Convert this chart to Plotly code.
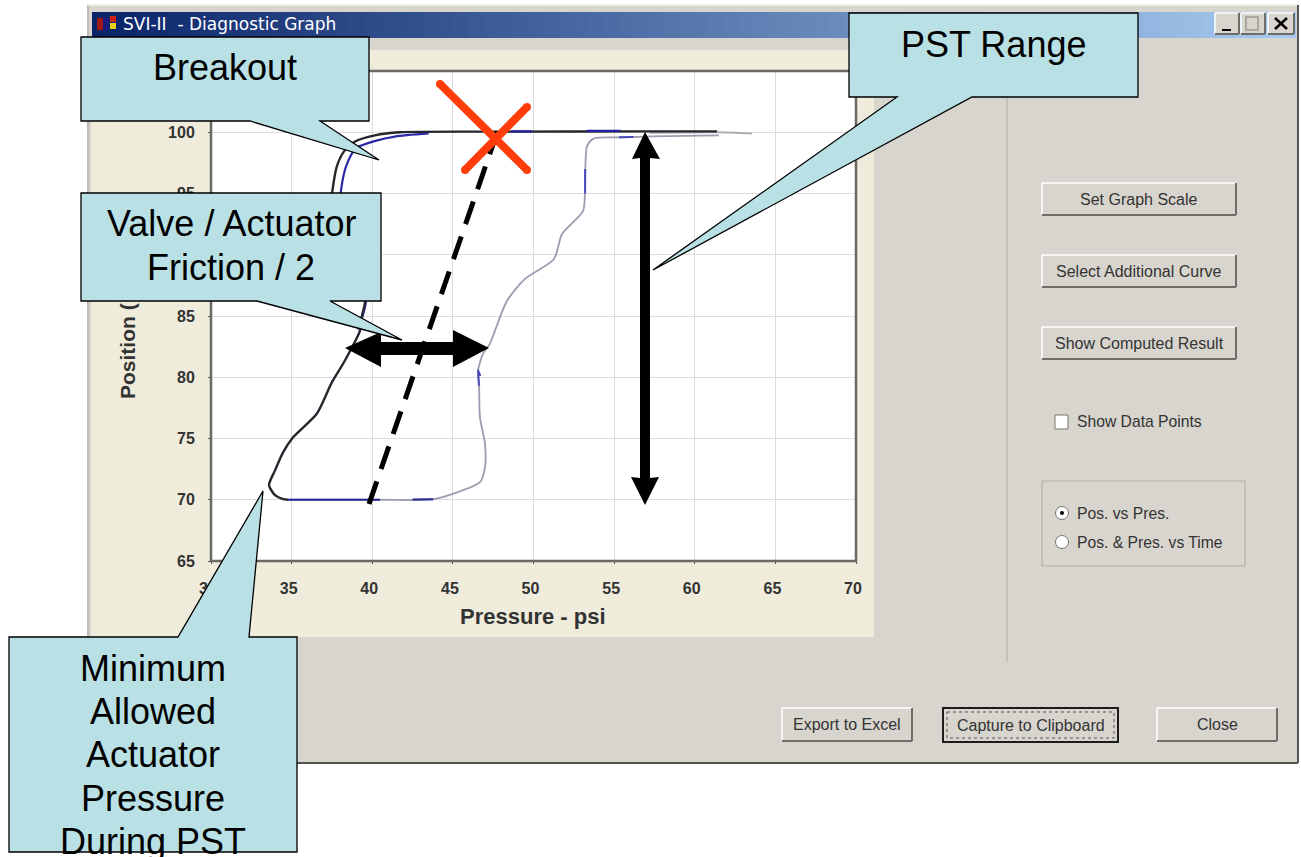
import plotly.graph_objects as go

# ---- chart data (pressure psi, position %) ----
x_ticks = [30, 35, 40, 45, 50, 55, 60, 65, 70]
y_ticks = [65, 70, 75, 80, 85, 90, 95, 100, 105]

down_pressure = [61.38, 57.2, 47.9, 41.7, 40.17, 38.93, 38.25, 37.8, 37.57, 37.44, 37.57, 38.31, 39.12,
                 39.55, 39.36, 39.24, 38.3, 37.5, 36.57, 35.09, 34.47, 33.97, 33.6, 33.97, 34.47, 34.78]
down_position = [100.07, 100.07, 100.05, 100.0, 99.75, 99.25, 98.44, 97.2, 95.6, 94.0, 92.3, 89.33, 87.46,
                 86.24, 85.0, 83.8, 81.35, 79.6, 77.04, 75.1, 73.87, 72.4, 71.2, 70.37, 70.05, 70.0]

blue_left_pressure = [43.5, 41.4, 40.2, 39.0, 38.4, 38.1, 38.0, 38.5, 39.2, 39.6, 39.4, 39.1]
blue_left_position = [99.9, 99.65, 99.3, 98.7, 97.3, 95.6, 93.8, 90.0, 87.5, 86.2, 85.0, 83.9]

return_pressure = [34.78, 40.48, 43.77, 45.26, 46.68, 46.99, 46.99, 46.68, 46.62, 46.56, 46.87, 47.3, 47.61,
                   48.36, 49.47, 51.27, 51.77, 53.07, 53.19, 53.32, 53.75, 55.43, 57.35, 61.5]
return_position = [70.0, 70.0, 70.04, 70.6, 71.43, 72.65, 74.6, 76.7, 79.73, 80.54, 81.92, 82.74, 83.8,
                   86.24, 88.03, 89.65, 91.69, 93.56, 94.94, 98.85, 99.5, 99.58, 99.66, 99.74]

blue_bottom_pressure = [34.78, 40.48, None, 42.5, 43.77]
blue_bottom_position = [70.0, 70.0, None, 70.02, 70.04]
blue_top_pressure = [48.6, 49.9, None, 53.3, 55.4]
blue_top_position = [100.07, 100.07, None, 100.12, 100.12]
blue_return_pressure = [46.7, 46.56, 46.62, None, 53.2, 53.2, None, 55.3, 56.2]
blue_return_position = [80.1, 80.6, 79.3, None, 97.0, 95.0, None, 99.6, 99.62]

tail_pressure = [57.2, 61.38, 63.55]
tail_position = [99.95, 100.0, 99.9]

# ---- page geometry ----
W, H = 1301, 857
L, R, T, B = 211, 856, 71, 561
def X(p): return (p - L) / (R - L)
def Y(p): return (B - p) / (B - T)

shapes, annos = [], []

def rect(x0, y0, x1, y1, fill=None, line=None, lw=1, layer="below", dash=None):
    ln = dict(color=line if line else "rgba(0,0,0,0)", width=lw if line else 0)
    if dash:
        ln["dash"] = dash
    shapes.append(dict(type="rect", xref="paper", yref="paper", x0=X(x0), x1=X(x1), y0=Y(y0), y1=Y(y1),
                       fillcolor=fill if fill else "rgba(0,0,0,0)", line=ln, layer=layer))

def seg(x0, y0, x1, y1, color, lw=1, layer="below", dash=None):
    ln = dict(color=color, width=lw)
    if dash:
        ln["dash"] = dash
    shapes.append(dict(type="line", xref="paper", yref="paper", x0=X(x0), x1=X(x1), y0=Y(y0), y1=Y(y1),
                       line=ln, layer=layer))

def poly(pts, fill, line=None, lw=0, layer="above"):
    d = "M " + " L ".join(f"{X(a):.5f},{Y(b):.5f}" for a, b in pts) + " Z"
    shapes.append(dict(type="path", xref="paper", yref="paper", path=d, fillcolor=fill,
                       line=dict(color=line if line else "rgba(0,0,0,0)", width=lw), layer=layer))

def circ(cx, cy, r, fill, line=None, lw=0, layer="above"):
    shapes.append(dict(type="circle", xref="paper", yref="paper", x0=X(cx - r), x1=X(cx + r), y0=Y(cy - r), y1=Y(cy + r),
                       fillcolor=fill, line=dict(color=line if line else "rgba(0,0,0,0)", width=lw), layer=layer))

def text(cx, cy, s, size, color="#000000", family="Liberation Sans, Arial, sans-serif", anchor="center", angle=0, bold=False):
    annos.append(dict(xref="paper", yref="paper", x=X(cx), y=Y(cy), text=f"<b>{s}</b>" if bold else s, showarrow=False,
                      xanchor=anchor, yanchor="middle", textangle=angle, borderpad=0,
                      font=dict(size=size, color=color, family=family)))

FACE = "#d8d5ce"
def button(x0, y0, x1, y1, label=None, dark=False, size=16):
    rect(x0, y0, x1, y1, fill=FACE)
    seg(x0, y0, x1, y0, "#ffffff", 1.5)
    seg(x0, y0, x0, y1, "#ffffff", 1.5)
    seg(x0, y1, x1, y1, "#6f6d68", 2)
    seg(x1, y0, x1, y1, "#6f6d68", 2)
    if dark:
        rect(x0, y0, x1, y1, line="#1c1c1c", lw=2)
        rect(x0 + 4, y0 + 4, x1 - 4, y1 - 4, line="#555555", lw=1, dash="dot")
    if label:
        text((x0 + x1) / 2, (y0 + y1) / 2, label, size, color="#333333")

# window
rect(88, 5, 1298, 763, fill=FACE)
seg(88, 5, 88, 763, "#bdbbb6", 2)
seg(88, 5, 1298, 5, "#efeeea", 2)
seg(1298, 5, 1298, 763, "#55534f", 2)
seg(88, 763, 1298, 763, "#55534f", 2)

# title bar gradient
left, right = (10, 36, 106), (166, 202, 240)
n = 80
x_a, x_b = 92, 1295
for i in range(n):
    t = i / (n - 1)
    c = tuple(round(left[k] + (right[k] - left[k]) * t) for k in range(3))
    rect(x_a + (x_b - x_a) * i / n, 12, x_a + (x_b - x_a) * (i + 1) / n + 1, 38, fill=f"rgb{c}")
text(122, 24, "SVI-II\u00a0\u00a0- Diagnostic Graph", 17, color="#ffffff", family="DejaVu Sans, sans-serif", anchor="left")

# title icon
for (a, b, c) in [(97, 18, "#a01818"), (103, 18, "#1a1a80"), (110, 16, "#d02010"), (110, 23, "#e8d010"),
                  (103, 24, "#1a1a80"), (97, 24, "#a01818")]:
    rect(a, b, a + 6, b + 6, fill=c)

# caption buttons
button(1215, 13, 1239, 34)
button(1241, 13, 1265, 34)
button(1268, 13, 1294, 34)
rect(1222, 29, 1231, 31, fill="#000000")
rect(1246, 17, 1258, 30, line="#9a9893", lw=1.5)
seg(1275, 18, 1287, 29, "#000000", 2.5)
seg(1287, 18, 1275, 29, "#000000", 2.5)

# chart panel
rect(91, 50, 874, 637, fill="#f0ecdc")
rect(L, T, R, B, fill="#ffffff")

# separator and controls
seg(1007, 97, 1007, 662, "#b3b1ac", 1)
button(1042, 183, 1236, 215, "Set Graph Scale")
button(1042, 255, 1236, 287, "Select Additional Curve")
button(1042, 327, 1236, 359, "Show Computed Result")
button(782, 708, 912, 741, "Export to Excel")
button(943, 708, 1118, 742, "Capture to Clipboard", dark=True)
button(1157, 708, 1277, 741, "Close")

rect(1055, 415, 1068, 429, fill="#ffffff", line="#77756f", lw=1)
text(1076, 422, "Show Data Points", 15.7, color="#333333", anchor="left")

rect(1042, 481, 1245, 566, line="#b3b1ac", lw=1.2)
circ(1062, 513, 6.5, "#ffffff", "#77756f", 1, layer="below")
circ(1062, 513, 2, "#000000", layer="below")
circ(1062, 542, 6.5, "#ffffff", "#77756f", 1, layer="below")
text(1076, 513, "Pos. vs Pres.", 15.7, color="#333333", anchor="left")
text(1076, 542, "Pos. &amp; Pres. vs Time", 15.7, color="#333333", anchor="left")

# plot frame, above the gridlines
rect(L, T, R, B, line="#6b6a62", lw=2.5, layer="above")

# overlays on the plot
poly([(640, 158), (632, 159), (645, 132), (660, 159), (650, 158), (650, 478), (659, 477), (645, 505), (631, 477),
      (640, 478)], "#000000")
poly([(345, 348), (381, 332), (381, 342), (453, 342), (453, 330), (489, 348), (453, 367), (453, 355), (381, 355),
      (381, 367)], "#000000")
seg(369, 504, 498, 130, "#000000", 5, layer="above", dash="24px,13px")

RED = "#ff3d0a"
seg(440, 84, 527, 170, RED, 8, layer="above")
seg(465, 170, 527, 107, RED, 8, layer="above")
for (a, b) in [(440, 84), (527, 170), (465, 170), (527, 107)]:
    circ(a, b, 4, RED)

# callouts
CALL = "#b9e0e4"
poly([(81, 37), (369, 37), (369, 121), (320, 121), (379, 160), (250, 121), (81, 121)], CALL, "#000000", 1.3)
poly([(849, 13), (1138, 13), (1138, 97), (972, 97), (653, 270), (897, 97), (849, 97)], CALL, "#000000", 1.3)
poly([(81, 193), (381, 193), (381, 301), (330, 301), (402, 340), (257, 301), (81, 301)], CALL, "#000000", 1.3)
poly([(9, 637), (178, 637), (263, 491), (249, 637), (297, 637), (297, 852), (9, 852)], CALL, "#000000", 1.3)

text(225, 68, "Breakout", 36)
text(993, 44, "PST Range", 36)
text(231, 224, "Valve / Actuator", 36)
text(231, 267, "Friction / 2", 36)
for line_y, s in zip([668, 711, 754, 798, 841], ["Minimum", "Allowed", "Actuator", "Pressure", "During PST"]):
    text(153, line_y, s, 36)

# axis titles
text(533, 616, "Pressure - psi", 22, color="#333333", bold=True)
text(127, 351, "Position (", 21, color="#333333", angle=-90, bold=True)

fig = go.Figure()
def curve(px, py, color, width):
    fig.add_trace(go.Scatter(x=px, y=py, mode="lines",
                             line=dict(color=color, width=width, shape="spline", smoothing=0.7)))
curve(blue_left_pressure, blue_left_position, "#2a2aa8", 2.2)
curve(tail_pressure, tail_position, "#b0b0b0", 2)
curve(return_pressure, return_position, "#9c9cb0", 1.8)
curve(down_pressure, down_position, "#26262e", 2.4)
curve(blue_bottom_pressure, blue_bottom_position, "#2a2a96", 2.2)
curve(blue_top_pressure, blue_top_position, "#2020a0", 2.2)
curve(blue_return_pressure, blue_return_position, "#4a4ab8", 2)

axis_common = dict(showgrid=True, gridcolor="#dcdcdc", gridwidth=1.3, zeroline=False, showline=False,
                   ticks="outside", ticklen=2, tickcolor="#555555",
                   tickfont=dict(size=16, color="#333333", family="Liberation Sans, Arial, sans-serif", weight="bold"),
                   automargin=False)
fig.update_layout(
    width=W, height=H, autosize=False, showlegend=False, hovermode=False,
    margin=dict(l=L, r=W - R, t=T, b=H - B, pad=0),
    paper_bgcolor="#ffffff", plot_bgcolor="rgba(0,0,0,0)",
    xaxis=dict(range=[30, 70], tickvals=x_ticks, ticklabelshift=-3, ticklabelstandoff=11, **axis_common),
    yaxis=dict(range=[65, 105], tickvals=y_ticks, ticklabelstandoff=10, **axis_common),
    shapes=shapes, annotations=annos,
)
fig.write_html("out.html", config=dict(displayModeBar=False),
               post_script="document.body.style.margin='0';document.body.style.overflow='hidden';")
